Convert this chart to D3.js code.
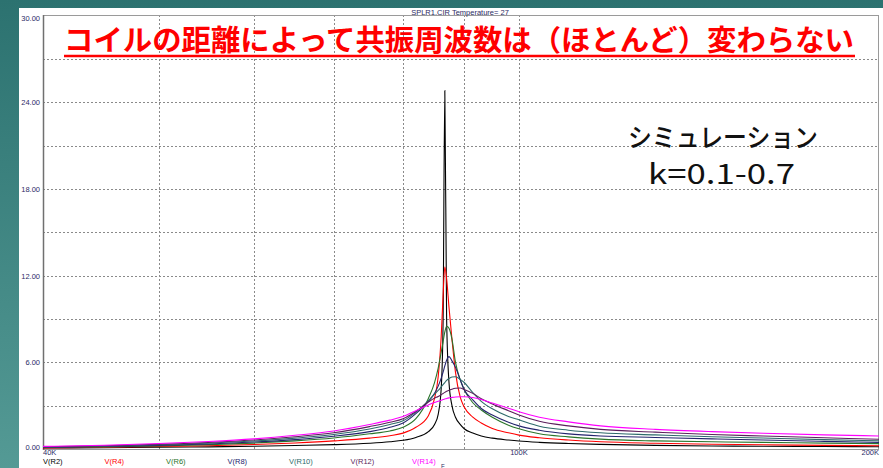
<!DOCTYPE html>
<meta charset="utf-8">
<style>
body { margin: 0; background: #fff; }
svg { display: block; }
.tick-lbl { font-family: "Liberation Sans", Arial, sans-serif; font-size: 7.5px; fill: #2b2b66; }
.grid line { stroke: #8a8a8a; stroke-dasharray: 2,2; stroke-width: 1; }
</style>
<body>
<svg id="chart" width="883" height="468"></svg>
<script src="https://d3js.org/d3.v7.min.js"></script>
<script>

// frequency in kHz
const freqK = [40, 45, 50, 55, 60, 65, 70, 75, 78, 80, 82, 84, 85, 85.6, 86.1, 86.4, 86.7, 87.0, 87.4, 87.9,
               88.5, 89.3, 90, 91.5, 93, 95, 98, 100, 104, 110, 117, 130, 145, 160, 180, 200];

const vR2  = [0.07, 0.09, 0.12, 0.15, 0.19, 0.24, 0.3, 0.4, 0.5, 0.6, 0.8, 1.2, 1.7, 2.4, 4.2, 8.5, 24.8, 9.0, 4.6, 3.0,
              2.2, 1.7, 1.4, 1.1, 0.9, 0.75, 0.62, 0.55, 0.46, 0.38, 0.32, 0.25, 0.21, 0.19, 0.17, 0.16];
const vR4  = [0.08, 0.12, 0.17, 0.23, 0.31, 0.42, 0.56, 0.75, 0.92, 1.1, 1.5, 2.3, 3.5, 5.0, 7.8, 10.5, 12.6, 11.8, 9.8, 7.6,
              5.3, 3.6, 2.9, 2.2, 1.8, 1.42, 1.12, 0.96, 0.78, 0.62, 0.5, 0.4, 0.33, 0.29, 0.25, 0.22];
const vR6  = [0.1, 0.15, 0.21, 0.3, 0.41, 0.56, 0.76, 1.05, 1.25, 1.5, 2.1, 3.5, 4.6, 5.6, 6.7, 7.4, 8.1, 8.5, 8.35, 7.6,
              6.0, 4.8, 4.1, 3.2, 2.7, 2.2, 1.65, 1.4, 1.05, 0.84, 0.68, 0.56, 0.5, 0.46, 0.41, 0.37];
const vR8  = [0.12, 0.17, 0.25, 0.35, 0.48, 0.65, 0.88, 1.2, 1.5, 1.8, 2.45, 3.3, 3.85, 4.35, 4.9, 5.3, 5.75, 6.15, 6.39, 6.1,
              5.65, 4.8, 4.1, 3.4, 2.8, 2.35, 1.85, 1.6, 1.3, 1.05, 0.9, 0.8, 0.7, 0.62, 0.53, 0.46];
const vR10 = [0.14, 0.2, 0.29, 0.4, 0.55, 0.75, 1.0, 1.38, 1.7, 1.95, 2.55, 3.35, 3.8, 4.05, 4.3, 4.45, 4.6, 4.75, 4.88, 4.98,
              5.0, 4.82, 4.6, 3.9, 3.3, 2.78, 2.25, 2.02, 1.58, 1.3, 1.12, 0.98, 0.85, 0.76, 0.65, 0.57];
const vR12 = [0.16, 0.23, 0.33, 0.45, 0.62, 0.85, 1.12, 1.55, 1.85, 2.1, 2.6, 3.25, 3.52, 3.64, 3.76, 3.84, 3.92, 3.99, 4.06, 4.14,
              4.2, 4.22, 4.12, 3.85, 3.48, 3.12, 2.65, 2.35, 1.92, 1.6, 1.36, 1.17, 1.0, 0.9, 0.78, 0.67];
const vR14 = [0.18, 0.26, 0.38, 0.52, 0.7, 0.95, 1.25, 1.7, 2.0, 2.25, 2.65, 3.05, 3.22, 3.3, 3.37, 3.42, 3.46, 3.5, 3.54, 3.57,
              3.6, 3.62, 3.62, 3.56, 3.42, 3.18, 2.82, 2.58, 2.2, 1.88, 1.6, 1.36, 1.2, 1.09, 0.98, 0.9];

const seriesNames = ["V(R2)", "V(R4)", "V(R6)", "V(R8)", "V(R10)", "V(R12)", "V(R14)"];
const seriesValues = [vR2, vR4, vR6, vR8, vR10, vR12, vR14];
const seriesColors = ["#000000", "#ff0000", "#2a742a", "#24246e", "#2d6a6a", "#5c1f5c", "#ff00ff"];

const yTicks = [0, 6, 12, 18, 24, 30];
const yMinor = [3, 9, 15, 21, 27];
const xGrid = [50, 60, 70, 80, 90, 100];
const xLabels = [40, 100, 200];

const titleText = "コイルの距離によって共振周波数は（ほとんど）変わらない";
const noteLines = ["シミュレーション", "k=0.1-0.7"];
const headerText = "SPLR1.CIR Temperature= 27";

const svg = d3.select("#chart");

// teal slide background
const defs = svg.append("defs");
const grad = defs.append("linearGradient").attr("id", "bg").attr("x1", 0).attr("y1", 0).attr("x2", 0).attr("y2", 1);
grad.append("stop").attr("offset", "0%").attr("stop-color", "#2c7270");
grad.append("stop").attr("offset", "100%").attr("stop-color", "#549a95");
svg.append("rect").attr("width", 883).attr("height", 468).attr("fill", "url(#bg)");
svg.append("rect").attr("x", 19).attr("y", 8).attr("width", 864).attr("height", 460).attr("fill", "#fff");

const x = d3.scaleLog().domain([40, 200]).range([43, 879]);
const y = d3.scaleLinear().domain([0, 30]).range([449, 15.5]);

// grid
const grid = svg.append("g").attr("class", "grid");
grid.selectAll("line.h")
    .data(yTicks.slice(1, 5).concat(yMinor))
    .enter().append("line")
    .attr("x1", 43).attr("x2", 879)
    .attr("y1", d => Math.round(y(d)) + 0.5).attr("y2", d => Math.round(y(d)) + 0.5);
grid.selectAll("line.v")
    .data(xGrid)
    .enter().append("line")
    .attr("y1", 15).attr("y2", 449)
    .attr("x1", d => Math.round(x(d)) + 0.5).attr("x2", d => Math.round(x(d)) + 0.5);

// frame
svg.append("rect").attr("x", 43.5).attr("y", 15.5).attr("width", 835).attr("height", 434)
   .attr("fill", "none").attr("stroke", "#9a9a9a").attr("stroke-width", 1);
svg.append("line").attr("x1", 43.5).attr("x2", 43.5).attr("y1", 15).attr("y2", 450)
   .attr("stroke", "#707070").attr("stroke-width", 1.5);

// y axis labels (top and bottom ones pulled inside like the original plot)
const yAxis = d3.axisLeft(y).tickValues(yTicks).tickSize(0).tickPadding(3).tickFormat(d3.format(".2f"));
const ya = svg.append("g").attr("transform", "translate(43,0)").call(yAxis);
ya.select(".domain").remove();
ya.selectAll("text").attr("class", "tick-lbl").attr("font-family", null).attr("font-size", null).attr("fill", null)
  .attr("dy", d => d === 30 ? "0.62em" : (d === 0 ? "0.05em" : "0.32em"));

// x labels
svg.selectAll("text.xl")
   .data(xLabels)
   .enter().append("text")
   .attr("class", "tick-lbl")
   .attr("x", d => x(d))
   .attr("y", 455)
   .attr("text-anchor", (d, i) => i === 0 ? "start" : (i === 2 ? "end" : "middle"))
   .text(d => d + "K");

// curves
const line = d3.line()
    .x((d, i) => x(freqK[i]))
    .y(d => y(d))
    .curve(d3.curveMonotoneX);

svg.append("g").selectAll("path")
   .data(seriesValues)
   .enter().append("path")
   .attr("d", line)
   .attr("fill", "none")
   .attr("stroke", (d, i) => seriesColors[i])
   .attr("stroke-width", 1.1);

// legend
const legendX = d3.scaleLinear().domain([0, 6]).range([43, 412]);
svg.selectAll("text.lg")
   .data(seriesNames)
   .enter().append("text")
   .attr("class", "tick-lbl")
   .attr("x", (d, i) => legendX(i))
   .attr("y", 463.5)
   .style("fill", (d, i) => seriesColors[i])
   .text(d => d);
svg.append("text").attr("class", "tick-lbl").attr("x", 441).attr("y", 467.5).style("font-size", "6px").text("F");

// header
svg.append("text").attr("class", "tick-lbl").attr("x", 460).attr("y", 15).attr("text-anchor", "middle")
   .text(headerText);

// title
svg.append("text")
   .attr("x", 64).attr("y", 51)
   .attr("textLength", 790).attr("lengthAdjust", "spacingAndGlyphs")
   .style("font-family", "'Noto Sans CJK JP', sans-serif")
   .style("font-size", "29px").style("font-weight", "bold")
   .style("fill", "#ff0000")
   .text(titleText);
svg.append("line").attr("x1", 64).attr("x2", 855).attr("y1", 56).attr("y2", 56)
   .attr("stroke", "#ff0000").attr("stroke-width", 2.5);

// annotation
svg.append("text")
   .attr("x", 628).attr("y", 147)
   .attr("textLength", 190).attr("lengthAdjust", "spacingAndGlyphs")
   .style("font-family", "'Noto Sans CJK JP', sans-serif").style("font-size", "26px")
   .style("font-weight", 500).style("fill", "#111")
   .text(noteLines[0]);
svg.append("text")
   .attr("x", 648).attr("y", 184)
   .attr("textLength", 147).attr("lengthAdjust", "spacingAndGlyphs")
   .style("font-family", "'Noto Sans CJK JP', sans-serif").style("font-size", "28px").style("fill", "#111")
   .text(noteLines[1]);

</script>
</body>
